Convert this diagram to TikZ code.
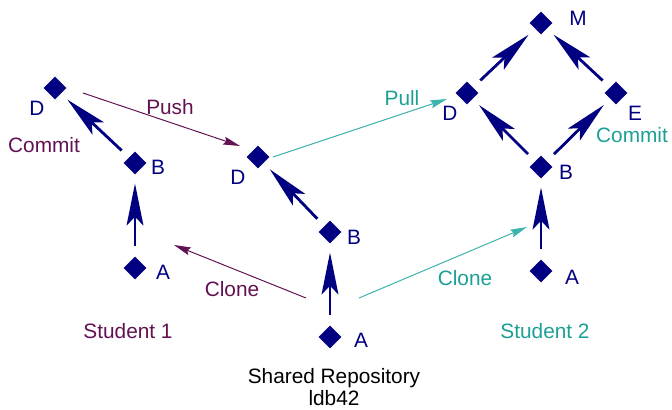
\documentclass[tikz,border=0pt]{standalone}
\usepackage{fontspec}
\setmainfont{Liberation Sans}
\usetikzlibrary{arrows.meta,shapes.geometric,calc}
\definecolor{commitblue}{RGB}{0,0,128}
\definecolor{pushpurple}{RGB}{98,18,82}
\definecolor{pullteal}{RGB}{28,160,150}
\definecolor{pullline}{RGB}{60,180,170}

\tikzset{
  rev/.style={diamond,fill=commitblue,inner sep=0pt,minimum size=0.57cm},
  lbl/.style={text=commitblue,inner sep=0pt,font=\fontsize{14.8}{17}\selectfont},
  parent/.style={draw=commitblue,line width=2pt,
    -{Stealth[length=1.05cm,width=0.42cm,inset=0.22cm]},
    shorten <=0.25cm,shorten >=0.22cm},
  xfer/.style={line width=0.7pt,-{Stealth[length=0.42cm,width=0.2cm,inset=0.06cm]}},
}

\begin{document}
\begin{tikzpicture}[x=0.025cm,y=-0.025cm]
  \useasboundingbox (0,0) rectangle (672,409);

  % student 1
  \node[rev] (s1a) at (135,268) {};
  \node[rev] (s1b) at (135,163) {};
  \node[rev] (s1d) at (55,88) {};
  \node[lbl] (s1alab) at (163,272) {A};
  \node[lbl] (s1blab) at (158,167) {B};
  \node[lbl] (s1dlab) at (37,108) {D};
  \node[lbl,text=pushpurple] (s1commit) at (44,145) {Commit};
  \node[lbl,text=pushpurple] (s1name) at (128,331) {Student 1};

  % shared repository
  \node[rev] (sha) at (330,337) {};
  \node[rev] (shb) at (330,232) {};
  \node[rev] (shd) at (258,157) {};
  \node[lbl] (shalab) at (361,340) {A};
  \node[lbl] (shblab) at (354,237) {B};
  \node[lbl] (shdlab) at (238,177) {D};
  \node[lbl,text=black,anchor=base] (repo) at (334,383) {Shared Repository};
  \node[lbl,text=black,anchor=base] (repoid) at (334,405) {ldb42};

  % student 2
  \node[rev] (s2a) at (541,271) {};
  \node[rev] (s2b) at (541,167) {};
  \node[rev] (s2d) at (467,93) {};
  \node[rev] (s2e) at (616,93) {};
  \node[rev] (s2m) at (541,23) {};
  \node[lbl] (s2alab) at (572,277) {A};
  \node[lbl] (s2blab) at (566,172) {B};
  \node[lbl] (s2dlab) at (450,113) {D};
  \node[lbl] (s2elab) at (635,113) {E};
  \node[lbl] (s2mlab) at (578,18) {M};
  \node[lbl,text=pullteal] (s2commit) at (632,135) {Commit};
  \node[lbl,text=pullteal] (s2name) at (545,331) {Student 2};

  % history
  \draw[parent] (s1a) -- (s1b);
  \draw[parent] (s1b) -- (s1d);
  \draw[parent] (sha) -- (shb);
  \draw[parent] (shb) -- (shd);
  \draw[parent] (s2a) -- (s2b);
  \draw[parent] (s2b) -- (s2d);
  \draw[parent] (s2b) -- (s2e);
  \draw[parent] (s2d) -- (s2m);
  \draw[parent] (s2e) -- (s2m);

  % transfers
  \draw[xfer,pushpurple] ($(s1d)+(28,5)$) -- ($(shd)+(-18,-11)$);
  \node[lbl,text=pushpurple] (pushlab) at (170,107) {Push};
  \draw[xfer,pushpurple] ($(sha)+(-24,-39)$) -- ($(s1a)+(39,-23)$);
  \node[lbl,text=pushpurple] (clone1lab) at (232,289) {Clone};
  \draw[xfer,pullline] ($(sha)+(29,-39)$) -- ($(s2a)+(-14,-44)$);
  \node[lbl,text=pullteal] (clone2lab) at (465,278) {Clone};
  \draw[xfer,pullline] ($(shd)+(15,0)$) -- ($(s2d)+(-20,6)$);
  \node[lbl,text=pullteal] (pulllab) at (402,98) {Pull};
\end{tikzpicture}
\end{document}
